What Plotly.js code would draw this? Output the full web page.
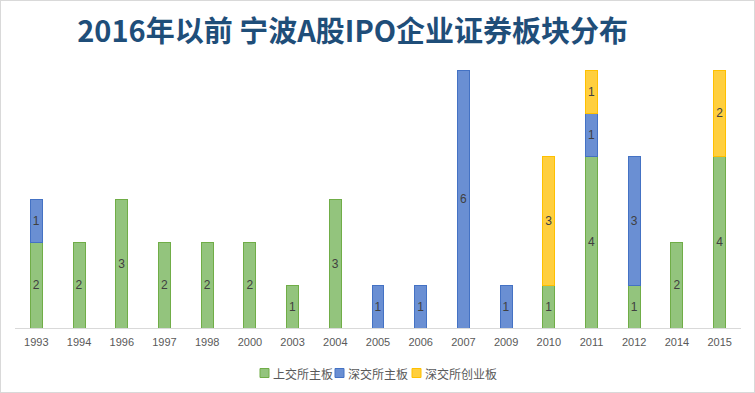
<!DOCTYPE html>
<html>
<head>
<meta charset="utf-8">
<script src="https://cdn.plot.ly/plotly-3.0.1.min.js"></script>
<style>
html,body{margin:0;padding:0;background:#fff;}
#chart{width:753px;height:391px;border:1px solid #d9d9d9;}
</style>
</head>
<body>
<div id="chart"></div>
<script>
const years = ['1993','1994','1996','1997','1998','2000','2003','2004','2005','2006','2007','2009','2010','2011','2012','2014','2015'];
const shMain = [2,2,3,2,2,2,1,3,0,0,0,0,1,4,1,2,4];
const szMain = [1,0,0,0,0,0,0,0,1,1,6,1,0,1,3,0,0];
const szGem  = [0,0,0,0,0,0,0,0,0,0,0,0,3,1,0,0,2];
const seriesNames = ['上交所主板','深交所主板','深交所创业板'];

const styles = [
  {fill:'#93c47d', line:'#70ad47'},
  {fill:'#6a8fd3', line:'#4472c4'},
  {fill:'#ffcf3f', line:'#ffc000'}
];
const allSeries = [shMain, szMain, szGem];
const traces = allSeries.map((vals, i) => ({
  type:'bar',
  name: seriesNames[i],
  x: years,
  y: vals.map(v => v === 0 ? null : v),
  text: vals.map(v => v === 0 ? '' : String(v)),
  textposition:'inside',
  insidetextanchor:'middle',
  textangle:0,
  constraintext:'none',
  textfont:{color:'#404040', size:12, family:'Liberation Sans, Arial'},
  marker:{color:styles[i].fill, line:{color:styles[i].line, width:1}},
  showlegend:false,
  hoverinfo:'x+y+name'
}));

// Custom compact legend (paper coordinates)
const M = {l:14, r:13, t:69, b:64};
const W = 753, H = 391;
const pw = W - M.l - M.r, ph = H - M.t - M.b;
const px2x = p => (p - M.l) / pw;
const py2y = p => (H - M.b - p) / ph;
const legendStarts = [259, 334, 411];
const legendY = 372;
const shapes = [], annotations = [];
seriesNames.forEach((n, i) => {
  const x0 = legendStarts[i];
  shapes.push({type:'rect', xref:'paper', yref:'paper',
    x0:px2x(x0), x1:px2x(x0+9), y0:py2y(legendY+4.5), y1:py2y(legendY-4.5),
    fillcolor:styles[i].fill, line:{color:styles[i].line, width:1}});
  annotations.push({xref:'paper', yref:'paper', x:px2x(x0+11), y:py2y(legendY),
    xanchor:'left', yanchor:'middle', showarrow:false, text:n,
    font:{family:'Noto Sans CJK SC, sans-serif', size:12, color:'#595959'}});
});

const layout = {
  width:W, height:H,
  barmode:'stack',
  bargap:0.72,
  margin:{l:M.l, r:M.r, t:M.t, b:M.b, autoexpand:false},
  paper_bgcolor:'#ffffff',
  plot_bgcolor:'#ffffff',
  title:{
    text:'<b>2016年以前 宁波A股IPO企业证券板块分布</b>',
    font:{family:'Noto Sans CJK SC, sans-serif', size:29, color:'#1f4e79'},
    x:0.467, xanchor:'center', y:0.922, yanchor:'middle'
  },
  xaxis:{
    type:'category',
    showline:true, linecolor:'#d9d9d9', linewidth:1,
    ticks:'', showgrid:false, ticklabelstandoff:4,
    tickfont:{family:'Liberation Sans, Arial', size:11, color:'#595959'}
  },
  yaxis:{
    range:[0,6], showgrid:false, showticklabels:false, zeroline:false, showline:false, ticks:''
  },
  showlegend:false,
  shapes:shapes,
  annotations:annotations
};

Plotly.newPlot('chart', traces, layout, {displayModeBar:false, staticPlot:true});
</script>
</body>
</html>
